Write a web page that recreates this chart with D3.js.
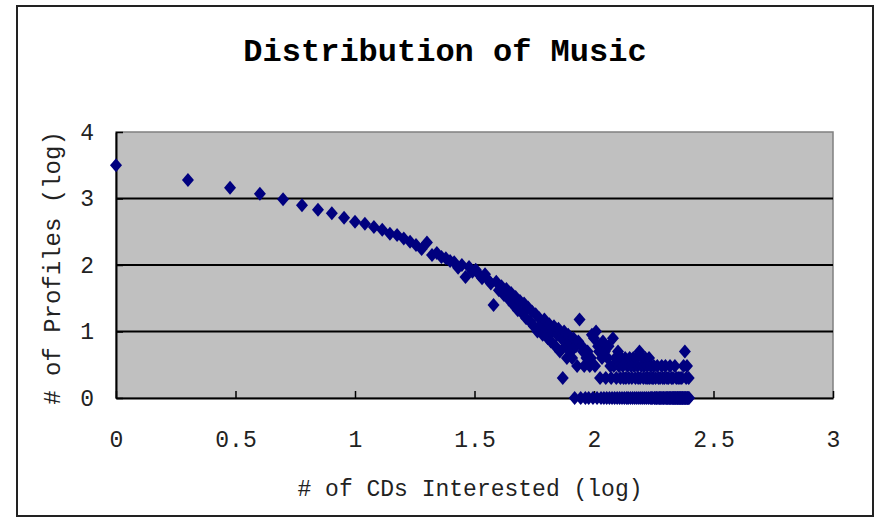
<!DOCTYPE html>
<html>
<head>
<meta charset="utf-8">
<script src="https://cdn.jsdelivr.net/npm/d3@7"></script>
<style>
  body { margin: 0; background: #fff; }
  svg { display: block; }
</style>
</head>
<body>
<div id="chart"></div>
<script>
// Chart values
const chartTitle = 'Distribution of Music';
const xTitle = '# of CDs Interested (log)';
const yTitle = '# of Profiles (log)';
const xTicks = [0, 0.5, 1, 1.5, 2, 2.5, 3];
const yTicks = [0, 1, 2, 3, 4];

// number of CDs a profile is interested in (x is plotted as log10 of this)
const cdCounts = [
  1, 2, 3, 4, 5, 6, 7, 8, 9, 10,
  11, 12, 13, 14, 15, 16, 17, 18, 19, 20,
  21, 22, 23, 24, 25, 26, 27, 28, 29, 30,
  31, 32, 33, 34, 35, 36, 37, 38, 39, 40,
  41, 42, 43, 44, 45, 46, 47, 48, 49, 50,
  51, 52, 53, 54, 55, 56, 57, 58, 59, 60,
  61, 62, 63, 64, 65, 66, 67, 68, 69, 70,
  71, 72, 73, 74, 75, 76, 77, 78, 79, 80,
  81, 82, 83, 84, 85, 86, 87, 88, 89, 90,
  91, 92, 93, 94, 95, 96, 97, 98, 99, 100,
  101, 102, 103, 104, 105, 106, 107, 108, 109, 110,
  111, 112, 113, 114, 115, 116, 117, 118, 119, 120,
  121, 122, 123, 124, 125, 126, 127, 128, 129, 130,
  131, 132, 133, 134, 135, 136, 137, 138, 139, 140,
  141, 142, 143, 144, 145, 146, 147, 148, 149, 150,
  151, 152, 153, 154, 155, 156, 157, 158, 159, 160,
  161, 162, 163, 164, 165, 166, 167, 168, 169, 170,
  171, 172, 173, 174, 175, 176, 177, 178, 179, 180,
  181, 182, 183, 184, 185, 186, 187, 188, 189, 190,
  191, 192, 193, 194, 195, 196, 197, 198, 199, 200,
  201, 202, 203, 204, 205, 206, 207, 208, 209, 210,
  211, 212, 213, 214, 215, 216, 217, 218, 219, 220,
  221, 222, 223, 224, 225, 226, 227, 228, 229, 230,
  231, 232, 233, 234, 235, 236, 237, 238, 239, 240,
  241, 242, 243, 244, 245, 246, 247, 248, 249, 250
];

// log10 of the number of profiles
const profilesLog = [
  3.50, 3.28, 3.16, 3.07, 2.99, 2.90, 2.83, 2.78, 2.71, 2.65,
  2.62, 2.57, 2.53, 2.47, 2.45, 2.40, 2.35, 2.30, 2.24, 2.34,
  2.15, 2.18, 2.12, 2.10, 2.06, 2.04, 1.96, 2.00, 1.82, 1.97,
  1.90, 1.93, 1.86, 1.80, 1.86, 1.78, 1.72, 1.40, 1.75, 1.62,
  1.68, 1.55, 1.64, 1.48, 1.58, 1.40, 1.52, 1.32, 1.46, 1.28,
  1.42, 1.20, 1.36, 1.15, 1.30, 1.08, 1.26, 1.00, 1.20, 1.11,
  0.95, 1.18, 1.04, 0.90, 1.11, 0.85, 1.00, 1.08, 0.78, 0.95,
  1.04, 0.70, 0.90, 0.30, 1.00, 0.78, 0.60, 0.95, 0.85, 0.70,
  0.60, 0.90, 0, 0.78, 0.48, 0.85, 1.18, 0, 0.78, 0.70,
  0.48, 0, 0.60, 0.70, 0, 0.48, 0.60, 0.95, 0, 0.90,
  0.48, 1.00, 0, 0.78, 0.70, 0.30, 0, 0.60, 0.85, 0,
  0.70, 0.30, 0, 0.60, 0.78, 0, 0.48, 0.30, 0, 0.90,
  0.48, 0, 0.60, 0.30, 0, 0.70, 0.48, 0, 0.30, 0.60,
  0, 0.48, 0.30, 0, 0.60, 0.30, 0, 0.48, 0, 0.30,
  0.60, 0, 0.48, 0.30, 0, 0.60, 0.48, 0, 0.30, 0.60,
  0, 0.48, 0.30, 0, 0.70, 0.30, 0, 0.48, 0.60, 0,
  0.30, 0.48, 0, 0.60, 0.30, 0, 0.48, 0.30, 0, 0.60,
  0.30, 0, 0.48, 0, 0.30, 0, 0.30, 0.48, 0, 0,
  0.30, 0, 0, 0.48, 0, 0.30, 0, 0, 0.30, 0,
  0, 0.48, 0, 0.30, 0, 0, 0.30, 0, 0.48, 0,
  0, 0.30, 0, 0, 0.30, 0, 0, 0.48, 0, 0,
  0.30, 0, 0, 0.30, 0, 0, 0, 0.48, 0, 0,
  0.30, 0, 0, 0, 0.30, 0, 0, 0, 0.30, 0,
  0, 0, 0.30, 0, 0, 0, 0.48, 0, 0, 0.70,
  0, 0, 0.30, 0, 0.48, 0, 0, 0, 0.30, 0
];

// Dimensions
const W = 879, H = 522;
const plot = { left: 116, right: 833, top: 132, bottom: 398 };
const monoFont = '"Liberation Mono", "DejaVu Sans Mono", monospace';

const svg = d3.select('#chart')
  .append('svg')
  .attr('width', W)
  .attr('height', H);

svg.append('rect').attr('width', W).attr('height', H).attr('fill', '#fff');

// outer chart border
svg.append('rect')
  .attr('x', 17).attr('y', 6)
  .attr('width', 856).attr('height', 510)
  .attr('fill', 'none')
  .attr('stroke', '#222')
  .attr('stroke-width', 2);

// Scales
const xScale = d3.scaleLinear().domain([0, 3]).range([plot.left, plot.right]);
const yScale = d3.scaleLinear().domain([0, 4]).range([plot.bottom, plot.top]);

// plot area
svg.append('rect')
  .attr('x', plot.left).attr('y', plot.top)
  .attr('width', plot.right - plot.left)
  .attr('height', plot.bottom - plot.top)
  .attr('fill', '#c0c0c0')
  .attr('stroke', '#808080')
  .attr('stroke-width', 1.5);

// gridlines
svg.append('g')
  .selectAll('line')
  .data(yTicks.filter(d => d > 0 && d < 4))
  .enter().append('line')
  .attr('x1', plot.left).attr('x2', plot.right)
  .attr('y1', d => yScale(d)).attr('y2', d => yScale(d))
  .attr('stroke', '#000')
  .attr('stroke-width', 2);

// axes
let xNode = svg.append('g')
  .attr('transform', 'translate(0,' + plot.bottom + ')')
  .call(d3.axisBottom(xScale).tickValues(xTicks).tickFormat(d => String(d))
    .tickSizeInner(-7).tickSizeOuter(0).tickPadding(33));
let yNode = svg.append('g')
  .attr('transform', 'translate(' + plot.left + ',0)')
  .call(d3.axisLeft(yScale).tickValues(yTicks).tickFormat(d => String(d))
    .tickSizeInner(-7).tickSizeOuter(0).tickPadding(22));

[xNode, yNode].forEach(n => {
  n.select('.domain').attr('stroke', '#000').attr('stroke-width', 2);
  n.selectAll('.tick line').attr('stroke', '#000').attr('stroke-width', 1.5);
  n.selectAll('text')
    .style('font-family', monoFont)
    .style('font-size', '23px')
    .attr('fill', '#222');
});

// markers
const diamond = 'M0,-7L6,0L0,7L-6,0Z';
svg.append('g')
  .selectAll('path')
  .data(cdCounts.map((c, i) => ({ x: Math.log10(c), y: profilesLog[i] })))
  .enter().append('path')
  .attr('d', diamond)
  .attr('transform', d => 'translate(' + xScale(d.x) + ',' + yScale(d.y) + ')')
  .attr('fill', '#00007f');

// titles
svg.append('text')
  .attr('x', 445).attr('y', 61)
  .attr('text-anchor', 'middle')
  .style('font-family', monoFont)
  .style('font-weight', 'bold')
  .style('font-size', '32px')
  .attr('fill', '#000')
  .text(chartTitle);

svg.append('text')
  .attr('x', 470).attr('y', 496)
  .attr('text-anchor', 'middle')
  .style('font-family', monoFont)
  .style('font-size', '23px')
  .attr('fill', '#222')
  .text(xTitle);

svg.append('text')
  .attr('transform', 'translate(60,268) rotate(-90)')
  .attr('text-anchor', 'middle')
  .style('font-family', monoFont)
  .style('font-size', '24px')
  .attr('fill', '#222')
  .text(yTitle);
</script>
</body>
</html>
